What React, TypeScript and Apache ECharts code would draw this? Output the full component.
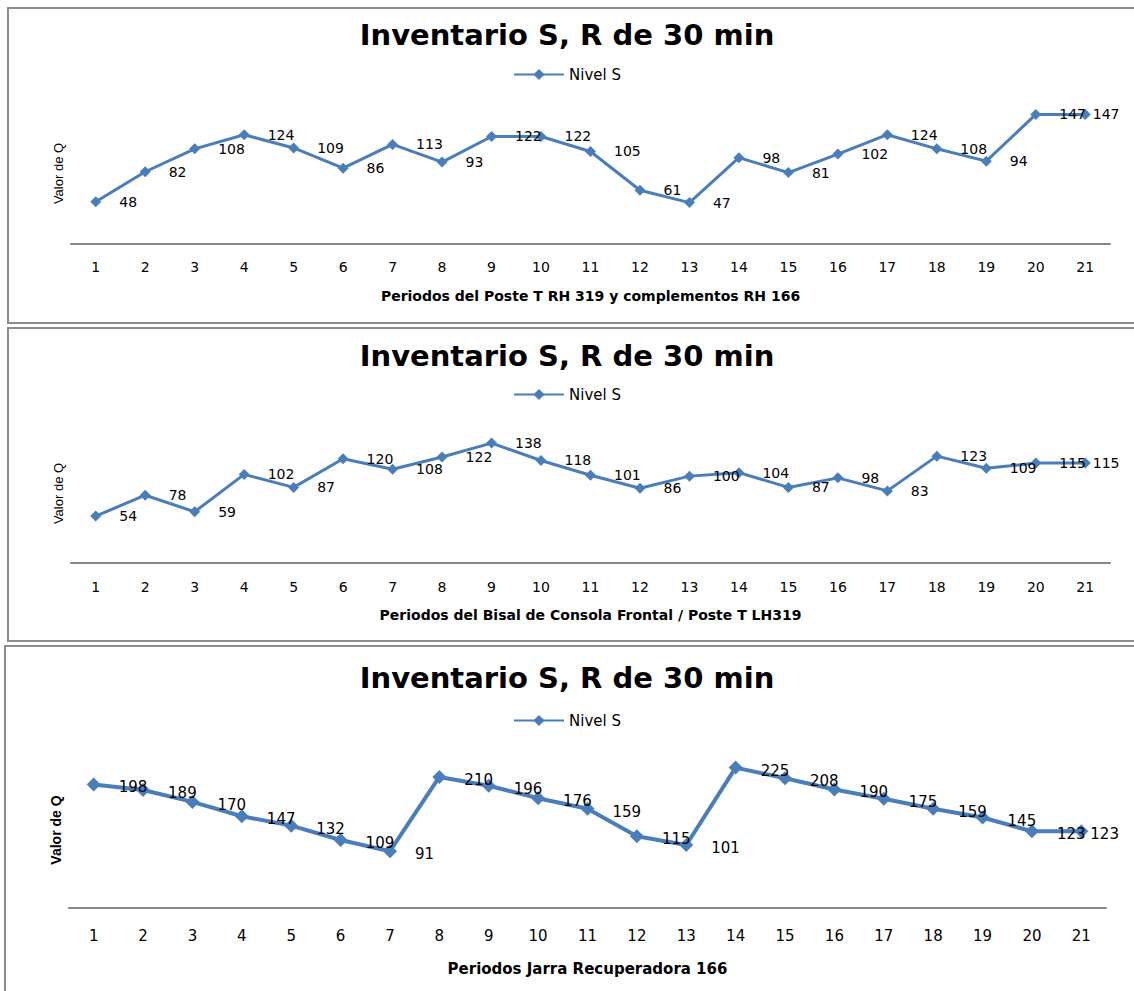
import React, { useEffect, useRef } from "react";
import * as echarts from "echarts";

const categories = ["1", "2", "3", "4", "5", "6", "7", "8", "9", "10", "11", "12", "13", "14", "15", "16", "17", "18", "19", "20", "21"];
const nivelSPoste = [48, 82, 108, 124, 109, 86, 113, 93, 122, 122, 105, 61, 47, 98, 81, 102, 124, 108, 94, 147, 147];
const nivelSBisal = [54, 78, 59, 102, 87, 120, 108, 122, 138, 118, 101, 86, 100, 104, 87, 98, 83, 123, 109, 115, 115];
const nivelSJarra = [198, 189, 170, 147, 132, 109, 91, 210, 196, 176, 159, 115, 101, 225, 208, 190, 175, 159, 145, 123, 123];

const chartTitle = "Inventario S, R de 30 min";
const seriesName = "Nivel S";
const yAxisName = "Valor de Q";
const xAxisNames = [
  "Periodos del Poste T RH 319 y complementos RH 166",
  "Periodos del Bisal de Consola Frontal / Poste T LH319",
  "Periodos Jarra Recuperadora 166",
];

const BLUE = "#4A7EBB";
const FONT = "DejaVu Sans";

type Cfg = {
  top: number;
  height: number;
  data: number[];
  xName: string;
  border: { x: number; y: number; w: number; h: number };
  grid: { left: number; right: number; top: number; height: number };
  yMax: number;
  titleTop: number;
  legendTop: number;
  xLabelMargin: number;
  xLabelSize: number;
  xNameGap: number;
  xNameSize: number;
  yNameBold: boolean;
  yNameSize: number;
  symbolSize: number;
  lineWidth: number;
  labelOffsetY: number;
  labelSize: number;
};

const configs: Cfg[] = [
  {
    top: 0,
    height: 326,
    data: nivelSPoste,
    xName: xAxisNames[0],
    border: { x: 8, y: 8, w: 1140, h: 315 },
    grid: { left: 71, right: 24, top: 103, height: 141 },
    yMax: 160,
    titleTop: 20,
    legendTop: 67,
    xLabelMargin: 16,
    xLabelSize: 14,
    xNameGap: 45,
    xNameSize: 14,
    yNameBold: false,
    yNameSize: 13,
    symbolSize: 11,
    lineWidth: 3,
    labelOffsetY: 0,
    labelSize: 14,
  },
  {
    top: 326,
    height: 318,
    data: nivelSBisal,
    xName: xAxisNames[1],
    border: { x: 8, y: 2, w: 1140, h: 313 },
    grid: { left: 71, right: 24, top: 98, height: 139 },
    yMax: 160,
    titleTop: 15,
    legendTop: 61,
    xLabelMargin: 17,
    xLabelSize: 14,
    xNameGap: 45,
    xNameSize: 14,
    yNameBold: false,
    yNameSize: 13,
    symbolSize: 11,
    lineWidth: 3,
    labelOffsetY: 0,
    labelSize: 14,
  },
  {
    top: 644,
    height: 347,
    data: nivelSJarra,
    xName: xAxisNames[2],
    border: { x: 5, y: 2, w: 1140, h: 360 },
    grid: { left: 69, right: 28, top: 108, height: 156 },
    yMax: 250,
    titleTop: 19,
    legendTop: 69,
    xLabelMargin: 20,
    xLabelSize: 15,
    xNameGap: 53,
    xNameSize: 15,
    yNameBold: true,
    yNameSize: 14,
    symbolSize: 14,
    lineWidth: 4,
    labelOffsetY: 3,
    labelSize: 15,
  },
];

function buildOption(c: Cfg): echarts.EChartsOption {
  const last = c.data.length - 1;
  const seriesData = c.data.map((v, i) =>
    i === last ? { value: v, label: { distance: 2 } } : v
  );
  return {
    animation: false,
    backgroundColor: "#fff",
    graphic: [
      {
        type: "rect",
        shape: { x: c.border.x, y: c.border.y, width: c.border.w, height: c.border.h },
        style: { fill: "none", stroke: "#8c8c8c", lineWidth: 2 },
        silent: true,
      },
    ],
    title: {
      text: chartTitle,
      left: "center",
      top: c.titleTop,
      padding: 0,
      textStyle: { fontFamily: FONT, fontWeight: "bold", fontSize: 29, color: "#000" },
    },
    legend: {
      left: 513,
      top: c.legendTop,
      padding: 0,
      itemWidth: 50,
      itemHeight: 14,
      itemGap: 6,
      data: [seriesName],
      textStyle: { fontFamily: FONT, fontSize: 15, color: "#000" },
    },
    grid: { left: c.grid.left, right: c.grid.right, top: c.grid.top, height: c.grid.height },
    xAxis: {
      type: "category",
      data: categories,
      boundaryGap: true,
      axisLine: { show: true, lineStyle: { color: "#868686", width: 2 } },
      axisTick: { show: false },
      splitLine: { show: false },
      axisLabel: { margin: c.xLabelMargin, fontFamily: FONT, fontSize: c.xLabelSize, color: "#000" },
      name: c.xName,
      nameLocation: "middle",
      nameGap: c.xNameGap,
      nameTextStyle: { fontFamily: FONT, fontWeight: "bold", fontSize: c.xNameSize, color: "#000" },
    },
    yAxis: {
      type: "value",
      min: 0,
      max: c.yMax,
      axisLine: { show: false },
      axisTick: { show: false },
      axisLabel: { show: false },
      splitLine: { show: false },
      name: yAxisName,
      nameLocation: "middle",
      nameGap: 6,
      nameTextStyle: {
        fontFamily: "Liberation Sans",
        fontWeight: c.yNameBold ? "bold" : "normal",
        fontSize: c.yNameSize,
        color: "#000",
      },
    },
    series: [
      {
        type: "line",
        name: seriesName,
        data: seriesData,
        symbol: "diamond",
        symbolSize: c.symbolSize,
        lineStyle: { color: BLUE, width: c.lineWidth },
        itemStyle: { color: BLUE },
        label: {
          show: true,
          position: "right",
          distance: 18,
          offset: [0, c.labelOffsetY],
          fontFamily: FONT,
          fontSize: c.labelSize,
          color: "#000",
        },
      },
    ],
  };
}

function ChartBox({ cfg }: { cfg: Cfg }) {
  const ref = useRef<HTMLDivElement>(null);
  useEffect(() => {
    if (!ref.current) return;
    const chart = echarts.init(ref.current, undefined, { renderer: "svg" });
    chart.setOption(buildOption(cfg));
    return () => chart.dispose();
  }, [cfg]);
  return (
    <div
      ref={ref}
      style={{ position: "absolute", left: 0, top: cfg.top, width: 1134, height: cfg.height }}
    />
  );
}

export default function App() {
  return (
    <div
      style={{
        position: "absolute",
        left: 0,
        top: 0,
        width: 1134,
        height: 991,
        overflow: "hidden",
        background: "#fff",
      }}
    >
      {configs.map((c, i) => (
        <ChartBox key={i} cfg={c} />
      ))}
    </div>
  );
}
